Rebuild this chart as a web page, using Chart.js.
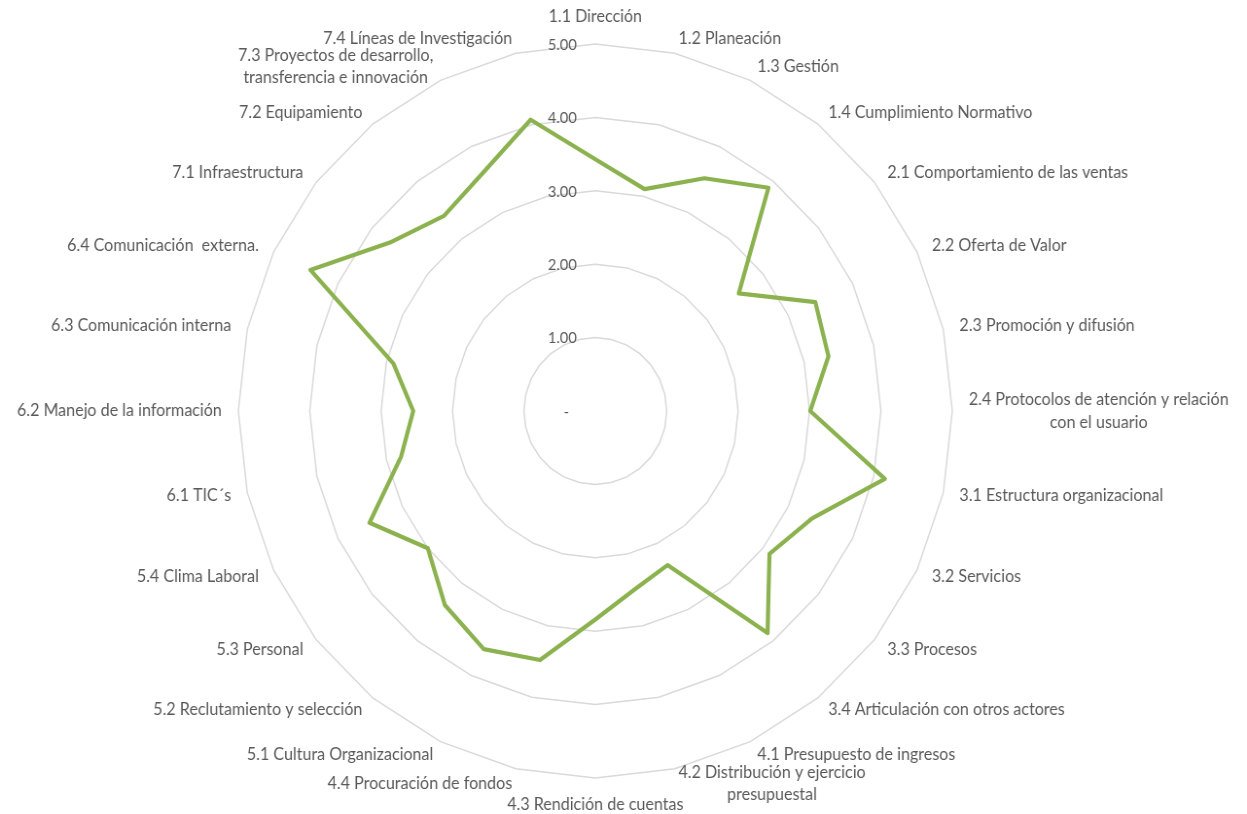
<!DOCTYPE html>
<html lang="es">
<head>
<meta charset="utf-8">
<title>Diagnóstico organizacional</title>
<script src="https://cdn.jsdelivr.net/npm/chart.js@4.4.1/dist/chart.umd.min.js"></script>
<style>
  html, body { margin: 0; padding: 0; background: #ffffff; overflow: hidden; }
  #radar { display: block; }
</style>
</head>
<body>
<canvas id="radar" width="1282" height="814" style="width:1247px;height:814px"></canvas>
<script>
// Áreas evaluadas (en el orden de las agujas del reloj, desde arriba)
const categories = [
  '1.1 Dirección',
  '1.2 Planeación',
  '1.3 Gestión',
  '1.4 Cumplimiento Normativo',
  '2.1 Comportamiento de las ventas',
  '2.2 Oferta de Valor',
  '2.3 Promoción y difusión',
  ['2.4 Protocolos de atención y relación', 'con el usuario'],
  '3.1 Estructura organizacional',
  '3.2 Servicios',
  '3.3 Procesos',
  '3.4 Articulación con otros actores',
  '4.1 Presupuesto de ingresos',
  ['4.2 Distribución y ejercicio', 'presupuestal'],
  '4.3 Rendición de cuentas',
  '4.4 Procuración de fondos',
  '5.1 Cultura Organizacional',
  '5.2 Reclutamiento y selección',
  '5.3 Personal',
  '5.4 Clima Laboral',
  '6.1 TIC´s',
  '6.2 Manejo de la información',
  '6.3 Comunicación interna',
  '6.4 Comunicación  externa.',
  '7.1 Infraestructura',
  '7.2 Equipamiento',
  ['7.3 Proyectos de desarrollo,', 'transferencia e innovación'],
  '7.4 Líneas de Investigación'
];

// Puntaje promedio por área (escala 0 a 5)
const scores = [
  3.43, 3.10, 3.52, 3.89,
  2.57, 3.42, 3.35, 3.01,
  4.16, 3.37, 3.12, 3.87,
  2.33, 2.49, 2.84, 3.48,
  3.60, 3.38, 3.00, 3.51,
  2.79, 2.55, 2.90, 4.43,
  3.68, 3.40, 3.61, 4.07
];

// Etiquetas del eje radial
const tickLabels = ['-', '1.00', '2.00', '3.00', '4.00', '5.00'];

const TEXT_COLOR = '#595959';
const FONT_FAMILY = 'Lato, "Open Sans", sans-serif';
const LABEL_SIZE = 16.5;
const TICK_SIZE = 15;
const LINE_H = 22.5;

// Dibuja las etiquetas del eje y de cada área alrededor de la red
const axisText = {
  id: 'axisText',
  afterDraw(chart) {
    const scale = chart.scales.r;
    const ctx = chart.ctx;
    const n = chart.data.labels.length;
    ctx.save();
    ctx.fillStyle = TEXT_COLOR;
    ctx.textBaseline = 'middle';

    ctx.font = TICK_SIZE + 'px ' + FONT_FAMILY;
    ctx.textAlign = 'right';
    scale.ticks.forEach((t, idx) => {
      const d = scale.getDistanceFromCenterForValue(t.value);
      const x = scale.xCenter - (idx === 0 ? 27 : 19);
      ctx.fillText(tickLabels[idx], x, scale.yCenter - d + 1);
    });

    ctx.font = LABEL_SIZE + 'px ' + FONT_FAMILY;
    chart.data.labels.forEach((lab, i) => {
      const lines = Array.isArray(lab) ? lab : [lab];
      const p = scale.getPointPosition(i, scale.drawingArea);
      const a = (i / n) * Math.PI * 2;
      const s = Math.sin(a), c = Math.cos(a);
      const bw = Math.max(...lines.map(l => ctx.measureText(l).width));
      let lx, ly;
      if (Math.abs(s) < 1e-6) {
        lx = p.x;
        ly = p.y - 27 * Math.sign(c);
      } else {
        const ax = p.x + 17 * s;
        ly = p.y - 15 * c;
        lx = s > 0 ? ax + bw / 2 : ax - bw / 2;
      }
      ctx.textAlign = 'center';
      const top = ly - (lines.length - 1) * LINE_H / 2;
      lines.forEach((l, k) => ctx.fillText(l, lx, top + k * LINE_H));
    });
    ctx.restore();
  }
};

new Chart(document.getElementById('radar'), {
  type: 'radar',
  data: {
    labels: categories,
    datasets: [{
      label: 'Puntaje',
      data: scores,
      borderColor: '#8bb24f',
      borderWidth: 4.2,
      borderJoinStyle: 'round',
      backgroundColor: 'rgba(0,0,0,0)',
      fill: false,
      pointRadius: 0,
      pointHoverRadius: 0,
      tension: 0
    }]
  },
  options: {
    responsive: false,
    devicePixelRatio: 1,
    animation: false,
    events: [],
    layout: { padding: { left: 245, right: 303, top: 44, bottom: 36 } },
    plugins: {
      legend: { display: false },
      tooltip: { enabled: false }
    },
    scales: {
      r: {
        min: 0,
        max: 5,
        ticks: { stepSize: 1, display: false },
        grid: { color: '#d9d9d9', lineWidth: 1.5 },
        angleLines: { display: false },
        pointLabels: { display: false }
      }
    }
  },
  plugins: [axisText]
});
</script>
</body>
</html>
